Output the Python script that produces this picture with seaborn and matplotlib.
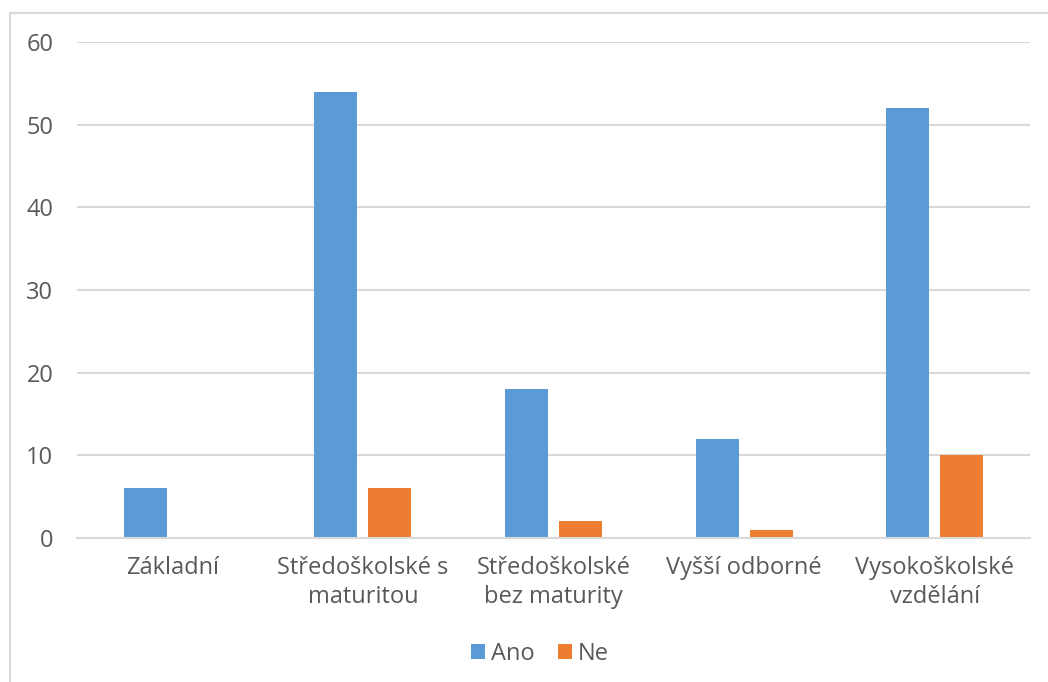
import matplotlib
matplotlib.use("Agg")
import matplotlib.pyplot as plt
from matplotlib.patches import Rectangle
import seaborn as sns
import pandas as pd

categories = ["Základní", "Středoškolské s\nmaturitou", "Středoškolské\nbez maturity",
              "Vyšší odborné", "Vysokoškolské\nvzdělání"]
ano = [6, 54, 18, 12, 52]
ne = [0, 6, 2, 1, 10]
series = ["Ano", "Ne"]
colors = ["#5B9BD5", "#ED7D31"]
yticks = [0, 10, 20, 30, 40, 50, 60]

df = pd.DataFrame({
    "kategorie": categories * 2,
    "hodnota": ano + ne,
    "odpověď": [series[0]] * len(categories) + [series[1]] * len(categories),
})

sns.set_theme(style="white")
plt.rcParams["font.family"] = ["Open Sans", "DejaVu Sans"]
text_color = "#595959"
grid_color = "#D9D9D9"

fig = plt.figure(figsize=(10.48, 6.82), dpi=100)
ax = fig.add_axes([77 / 1048, 1 - 538 / 682, 953 / 1048, 496 / 682])

sns.barplot(data=df, x="kategorie", y="hodnota", hue="odpověď",
            palette=colors, width=0.567, gap=0.204, ax=ax,
            saturation=1, legend=True, linewidth=0, edgecolor="none")

ax.set_ylim(0, 60)
ax.set_yticks(yticks)
ax.set_xlim(-0.5, len(categories) - 0.5)
ax.set_xlabel("")
ax.set_ylabel("")
ax.yaxis.grid(True, color=grid_color, linewidth=1.5)
ax.set_axisbelow(True)
for side in ["left", "right", "top"]:
    ax.spines[side].set_visible(False)
ax.spines["bottom"].set_color(grid_color)
ax.spines["bottom"].set_linewidth(1.5)
ax.tick_params(axis="both", length=0, colors=text_color, labelsize=17)
ax.tick_params(axis="y", pad=17)
ax.tick_params(axis="x", pad=13)
for lbl in ax.get_xticklabels():
    lbl.set_linespacing(1.3)

handles, labels = ax.get_legend_handles_labels()
ax.legend_.remove()
fig.legend(handles, labels, loc="center", bbox_to_anchor=(540 / 1048, 1 - 654 / 682),
           ncol=2, frameon=False, fontsize=17, labelcolor=text_color,
           handlelength=0.6, handleheight=0.6, handletextpad=0.25, columnspacing=1.0)

# chart-area frame
fig.add_artist(Rectangle((10 / 1048, -0.1), 1.2, 1 - 13 / 682 + 0.1,
                         transform=fig.transFigure, fill=False,
                         edgecolor=grid_color, linewidth=1.5))

fig.savefig("out.png", dpi=100)
